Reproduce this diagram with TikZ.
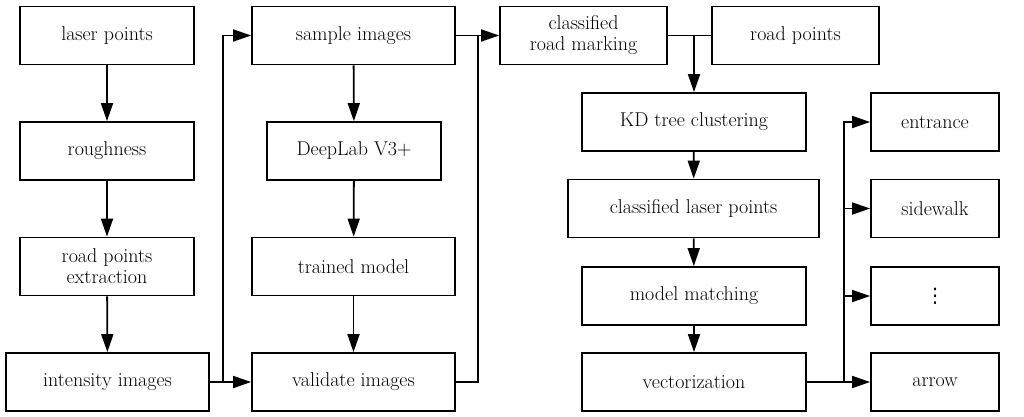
\documentclass[tikz,border=0pt]{standalone}
\usepackage{fontspec}
\setmainfont{Latin Modern Roman}
\newfontfamily\dvfont{DejaVu Sans}
\usetikzlibrary{arrows.meta}
\begin{document}
\begin{tikzpicture}[x=1pt,y=-1pt,
  box/.style={draw,line width=1.8pt,inner sep=0pt,align=center,font=\fontsize{20}{21}\selectfont,minimum height=58pt},
  conn/.style={line width=1.8pt},
  arr/.style={conn,-{Triangle[length=18pt,width=12pt]}}]
\useasboundingbox (0,0) rectangle (1024,416);
\node[box,minimum width=174pt] (lp) at (107,35.5) {laser points};
\node[box,minimum width=174pt] (rough) at (107,151) {roughness};
\node[box,minimum width=174pt] (rpe) at (107,266.5) {road points\\extraction};
\node[box,minimum width=203pt] (ii) at (107.5,382) {intensity images};
\node[box,minimum width=203pt] (si) at (353.5,35.5) {sample images};
\node[box,minimum width=174pt] (dl) at (354,151) {DeepLab V3+};
\node[box,minimum width=203pt] (tm) at (353.5,266.5) {trained model};
\node[box,minimum width=203pt] (vi) at (353.5,382) {validate images};
\node[box,minimum width=167pt] (crm) at (583.5,35.5) {classified\\road marking};
\node[box,minimum width=167pt] (rp) at (795.5,35.5) {road points};
\node[box,minimum width=224pt] (kd) at (694,122) {KD tree clustering};
\node[box,minimum width=251pt] (clp) at (693.5,208.5) {classified laser points};
\node[box,minimum width=224pt] (mm) at (694,296) {model matching};
\node[box,minimum width=224pt] (vec) at (694,382) {vectorization};
\node[box,minimum width=128pt] (ent) at (935,122) {entrance};
\node[box,minimum width=128pt] (sw) at (935,208.5) {sidewalk};
\node[box,minimum width=128pt] (dots) at (935,296) {\dvfont ⋮};
\node[box,minimum width=128pt] (arw) at (935,382) {arrow};
\coordinate (b1) at (223,382);
\coordinate (b2) at (478,382);
\coordinate (b3) at (844,382);
\coordinate (j) at (694,35.5);
% left column
\draw[arr] (lp) -- (rough);
\draw[arr] (rough) -- (rpe);
\draw[arr] (rpe) -- (ii);
% middle column
\draw[arr] (si) -- (dl);
\draw[arr] (dl) -- (tm);
\draw[arr] (tm) -- (vi);
% bus 1
\draw[arr] (ii.east) -- (vi.west);
\draw[arr] (b1) |- (si.west);
% bus 2
\draw[arr] (si.east) -- (crm.west);
\draw[conn] (vi.east) -- (b2) -- (b2 |- crm.west);
% top right
\draw[conn] (crm.east) -- (rp.west);
\draw[arr] (j) -- (kd.north);
\draw[arr] (kd) -- (clp);
\draw[arr] (clp) -- (mm);
\draw[arr] (mm) -- (vec);
% bus 3
\draw[arr] (vec.east) -- (arw.west);
\draw[arr] (b3) |- (ent.west);
\draw[arr] (b3) |- (sw.west);
\draw[arr] (b3) |- (dots.west);
\end{tikzpicture}
\end{document}
